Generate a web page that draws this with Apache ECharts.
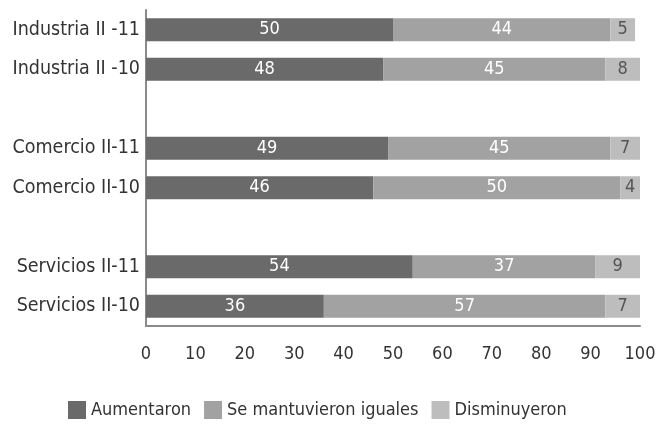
<!DOCTYPE html>
<html>
<head>
<meta charset="utf-8">
<script src="https://cdn.jsdelivr.net/npm/echarts@6/dist/echarts.min.js"></script>
<style>
  html, body { margin: 0; padding: 0; background: #fff; }
  #chart { width: 662px; height: 424px; }
</style>
</head>
<body>
<div id="chart"></div>
<script>
// Categories top to bottom; empty strings leave a blank row between sectors
const categories = ['Industria II -11', 'Industria II -10', '', 'Comercio II-11', 'Comercio II-10', '', 'Servicios II-11', 'Servicios II-10'];
const aumentaron = [50, 48, '-', 49, 46, '-', 54, 36];
const seMantuvieron = [44, 45, '-', 45, 50, '-', 37, 57];
const disminuyeron = [5, 8, '-', 7, 4, '-', 9, 7];
const xTicks = [0, 10, 20, 30, 40, 50, 60, 70, 80, 90, 100];

const FONT = '"DejaVu Sans Condensed", "Liberation Sans Narrow", "DejaVu Sans", sans-serif';

const chart = echarts.init(document.getElementById('chart'), null, { renderer: 'canvas' });

function barSeries(name, data, color, labelColor) {
  return {
    name: name,
    type: 'bar',
    stack: 'total',
    data: data,
    barWidth: 23,
    itemStyle: { color: color },
    label: {
      show: true,
      position: 'inside',
      color: labelColor,
      fontFamily: FONT,
      fontSize: 18
    },
    emphasis: { disabled: true }
  };
}

chart.setOption({
  animation: false,
  grid: { left: 146, right: 22, top: 10, bottom: 98, containLabel: false },
  legend: {
    bottom: 0,
    left: 63,
    itemWidth: 18,
    itemHeight: 18,
    itemGap: 13,
    icon: 'rect',
    textStyle: { fontFamily: FONT, fontSize: 18, color: '#333' },
    data: ['Aumentaron', 'Se mantuvieron iguales', 'Disminuyeron']
  },
  xAxis: {
    type: 'value',
    min: xTicks[0],
    max: xTicks[xTicks.length - 1],
    interval: 10,
    axisLine: { show: true, lineStyle: { color: '#8a8a8a', width: 2 } },
    axisTick: { show: false },
    splitLine: { show: false },
    axisLabel: { fontFamily: FONT, fontSize: 18, color: '#333', margin: 19 }
  },
  yAxis: {
    type: 'category',
    inverse: true,
    data: categories,
    axisLine: { show: true, lineStyle: { color: '#8a8a8a', width: 2 } },
    axisTick: { show: false },
    axisLabel: { fontFamily: FONT, fontSize: 19.5, color: '#333', margin: 6 }
  },
  series: [
    barSeries('Aumentaron', aumentaron, '#6a6a6a', '#ffffff'),
    barSeries('Se mantuvieron iguales', seMantuvieron, '#a2a2a2', '#ffffff'),
    barSeries('Disminuyeron', disminuyeron, '#bdbdbd', '#555555')
  ]
});
</script>
</body>
</html>
